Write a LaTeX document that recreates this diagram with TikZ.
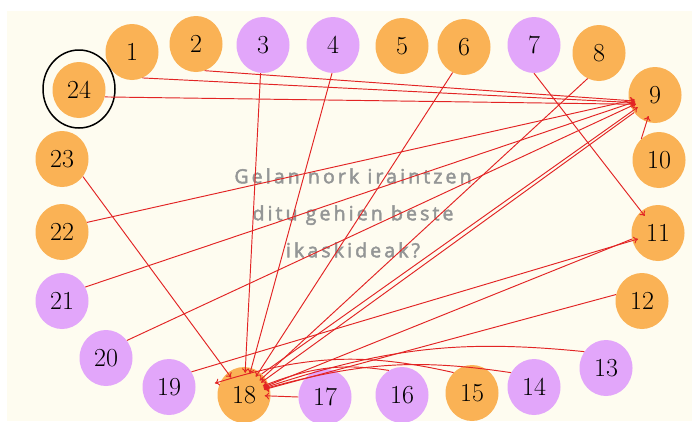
\documentclass[tikz,border=0pt]{standalone}
\usepackage{fontspec}
\newfontfamily\qfont[LetterSpace=16, FakeBold=2.4]{Open Sans}
\usetikzlibrary{shapes.geometric,arrows.meta}
\definecolor{bgcream}{RGB}{254,252,240}
\definecolor{nodeorange}{RGB}{250,178,85}
\definecolor{nodepurple}{RGB}{226,166,250}
\definecolor{edgered}{RGB}{226,36,36}
\definecolor{qgray}{RGB}{148,150,150}
\begin{document}
\begin{tikzpicture}[x=1pt,y=-1pt,
  stud/.style={ellipse, minimum width=53pt, minimum height=56pt, inner sep=0pt, font=\fontsize{26}{28}\selectfont},
  orn/.style={stud, fill=nodeorange},
  prp/.style={stud, fill=nodepurple},
  arr/.style={draw=edgered, line width=0.95pt, -{To[length=4.5pt,width=7pt]}, shorten >=-6pt}]
\useasboundingbox (0,0) rectangle (692,421);
\fill[white] (0,0) rectangle (692,421);
\fill[bgcream] (7,11) rectangle (692,421);
% question text
\node[font={\qfont\fontsize{19.5}{37}\selectfont}, text=qgray, align=center] (q) at (353,213) {Gelan nork iraintzen\\ditu gehien beste\\ikaskideak?};
% students
\node[orn] (n1) at (132,52) {1};
\node[orn] (n2) at (196,44) {2};
\node[prp] (n3) at (263,45) {3};
\node[prp] (n4) at (333,45) {4};
\node[orn] (n5) at (402,46) {5};
\node[orn] (n6) at (464,47) {6};
\node[prp] (n7) at (534,45) {7};
\node[orn] (n8) at (599,53) {8};
\node[orn] (n9) at (655,95) {9};
\node[orn] (n10) at (659,160) {10};
\node[orn] (n11) at (658,233) {11};
\node[orn] (n12) at (642,301) {12};
\node[prp] (n13) at (606,368) {13};
\node[prp] (n14) at (534,387) {14};
\node[orn] (n15) at (472,393) {15};
\node[prp] (n16) at (402,395) {16};
\node[prp] (n17) at (325,397) {17};
\node[orn] (n18) at (244,395) {18};
\node[prp] (n19) at (169,387) {19};
\node[prp] (n20) at (106,358) {20};
\node[prp] (n21) at (62,301) {21};
\node[orn] (n22) at (62,232) {22};
\node[orn] (n23) at (62,159) {23};
\node[orn] (n24) at (79,90) {24};
\node[draw, ellipse, line width=1.5pt, minimum width=72pt, minimum height=78pt] (ring) at (79,89) {};
% edges into 9
\draw[arr] (n1.-68) -- (n9.196);
\draw[arr] (n2.-72) -- (n9.192);
\draw[arr] (n24.-15) -- (n9.200);
\draw[arr] (n22.21) -- (n9);
\draw[arr] (n21.31) -- (n9);
\draw[arr] (n20.40) -- (n9);
\draw[arr] (n10.130) -- (n9);
\draw[arr] (n18.50) -- (n9);
% edges into 11
\draw[arr] (n7.-90) -- (n11);
\draw[arr] (n19.34) -- (n11);
% edges into 18
\draw[arr] (n9.-140) -- (n18);
\draw[arr] (n11.193) -- (n18);
\draw[arr] (n3.-95) -- (n18);
\draw[arr] (n4.-92) -- (n18);
\draw[arr] (n6.-114) -- (n18);
\draw[arr] (n8.-114) -- (n18);
\draw[arr] (n23.-40) -- (n18);
\draw[arr] (n12.166) -- (n18);
\draw[arr] (n13.143) to[bend right=12] (n18);
\draw[arr] (n14.148) to[bend right=12] (n18);
\draw[arr] (n15.132) to[bend right=15] (n18.150);
\draw[arr] (n16.118) to[bend right=15] (n18);
\draw[arr] (n17.180) -- (n18);
\end{tikzpicture}
\end{document}
